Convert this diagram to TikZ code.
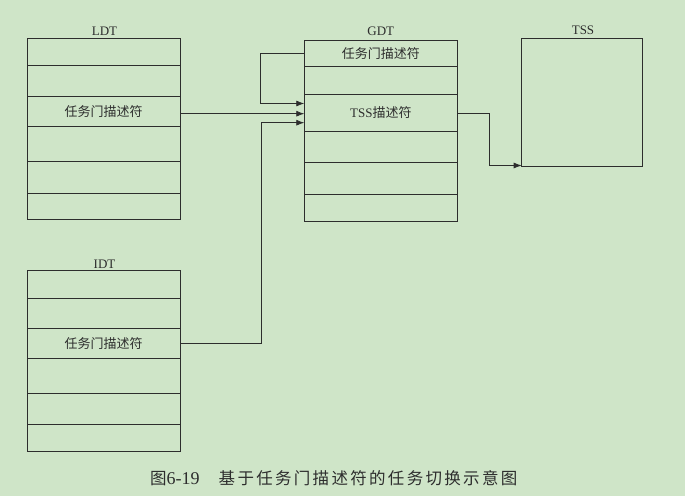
\documentclass[tikz,border=0pt]{standalone}
\usepackage{fontspec}
\setmainfont{Liberation Serif}
\newfontfamily\cjk{Noto Sans CJK SC}
\newfontfamily\cjkcap{Noto Sans CJK SC}[LetterSpace=14]
\usetikzlibrary{arrows.meta}
\definecolor{bg}{RGB}{207,229,200}
\definecolor{ink}{RGB}{45,45,45}
\tikzset{
  cell/.style={draw=ink, line width=0.9pt, inner sep=0pt, outer sep=0pt, minimum width=153pt, font=\fontsize{13}{15}\selectfont, text=ink},
  lab/.style={inner sep=0pt, font=\fontsize{13}{15}\selectfont, text=ink},
  conn/.style={draw=ink, line width=0.8pt, -{Latex[length=8pt,width=6pt]}},
}
\begin{document}
\begin{tikzpicture}[x=1pt,y=-1pt]
\fill[bg] (0,0) rectangle (685,496);
\useasboundingbox (0,0) rectangle (685,496);
% LDT
\node[lab] (ldtlab) at (104.5,31) {LDT};
\node[cell, minimum height=27.2pt] (l1) at (103.5,52.1) {};
\node[cell, minimum height=30.3pt] (l2) at (103.5,80.85) {};
\node[cell, minimum height=30.7pt] (l3) at (103.5,111.35) {\cjk 任务门描述符};
\node[cell, minimum height=35pt]   (l4) at (103.5,144.2) {};
\node[cell, minimum height=31.3pt] (l5) at (103.5,177.35) {};
\node[cell, minimum height=26pt]   (l6) at (103.5,206) {};
% IDT
\node[lab] (idtlab) at (104.5,264.5) {IDT};
\node[cell, minimum height=27.6pt] (i1) at (103.5,284.5) {};
\node[cell, minimum height=30pt]   (i2) at (103.5,313.3) {};
\node[cell, minimum height=30pt]   (i3) at (103.5,343.3) {\cjk 任务门描述符};
\node[cell, minimum height=35pt]   (i4) at (103.5,375.8) {};
\node[cell, minimum height=30.7pt] (i5) at (103.5,408.65) {};
\node[cell, minimum height=27.7pt] (i6) at (103.5,437.85) {};
% GDT
\node[lab] (gdtlab) at (380.8,31) {GDT};
\node[cell, minimum height=26.7pt] (g1) at (380.8,53.35) {\cjk 任务门描述符};
\node[cell, minimum height=27.3pt] (g2) at (380.8,80.35) {};
\node[cell, minimum height=37pt]   (g3) at (380.8,112.5) {TSS{\cjk 描述符}};
\node[cell, minimum height=31.7pt] (g4) at (380.8,146.85) {};
\node[cell, minimum height=31.3pt] (g5) at (380.8,178.35) {};
\node[cell, minimum height=27pt]   (g6) at (380.8,207.5) {};
% TSS
\node[lab] (tsslab) at (583,30) {TSS};
\node[cell, minimum width=121pt, minimum height=128.4pt] (tss) at (582.2,102.5) {};
% connector endpoints
\coordinate (ga) at (304.3,103.5);
\coordinate (gb) at (304.3,113.7);
\coordinate (gc) at (304.3,122.7);
\coordinate (tc) at (521.7,165.5);
% connectors
\draw[conn] (g1.west) -- ++(-43.6,0) |- (ga);
\draw[conn] (l3.east |- gb) -- (gb);
\draw[conn] (i3.east) -- ++(81,0) |- (gc);
\draw[conn] (g3.east |- gb) -- ++(32,0) |- (tc);
% caption
\node[inner sep=0pt, text=ink, anchor=west] (cap) at (150,478.5) {{\fontsize{16.5}{18}\cjk 图}{\fontsize{18}{18}\rmfamily 6-19}\hspace{19pt}{\fontsize{16.5}{18}\cjkcap 基于任务门描述符的任务切换示意图}};
\end{tikzpicture}
\end{document}
